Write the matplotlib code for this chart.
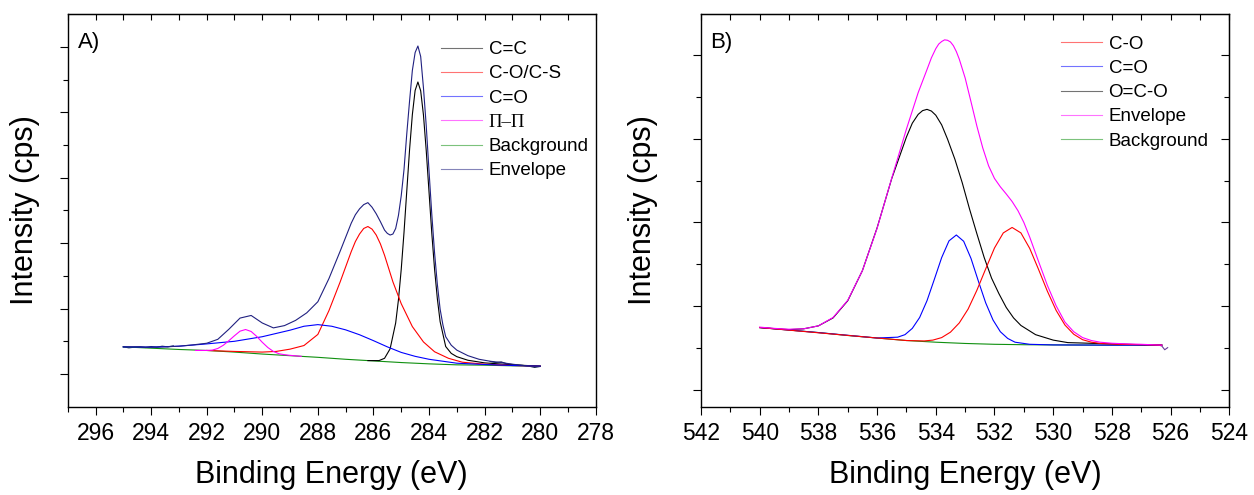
import matplotlib
matplotlib.use('Agg')
import matplotlib.pyplot as plt
from matplotlib.ticker import MultipleLocator, FixedLocator, NullFormatter
import numpy as np

plt.rcParams['font.family'] = ['Liberation Sans', 'DejaVu Sans']

# ---------------- panel A : C 1s ----------------
a_bg_e = [295, 294, 293, 292, 291, 290, 289, 288, 287, 286, 285, 284, 283, 282, 281, 280]
a_bg_i = [1.83, 1.79, 1.75, 1.72, 1.67, 1.61, 1.56, 1.51, 1.45, 1.40, 1.35, 1.31, 1.28, 1.27, 1.25, 1.24]

a_cc_e = [286.2, 285.8, 285.6, 285.4, 285.2, 285.1, 285.0, 284.9, 284.8, 284.7, 284.6, 284.5,
          284.4, 284.3, 284.2, 284.1, 284.0, 283.9, 283.8, 283.7, 283.6, 283.4, 283.2, 283.0,
          282.6, 282.0, 281.0, 280.0]
a_cc_i = [1.41, 1.41, 1.48, 1.77, 2.56, 3.27, 4.20, 5.33, 6.60, 7.86, 8.93, 9.67,
          9.93, 9.66, 8.92, 7.83, 6.57, 5.30, 4.20, 3.30, 2.60, 1.84, 1.63, 1.53,
          1.42, 1.34, 1.28, 1.24]

a_co_e = [292.0, 291.0, 290.0, 289.5, 289.0, 288.5, 288.0, 287.6, 287.2, 286.8, 286.65, 286.5,
          286.35, 286.2, 286.05, 285.9, 285.75, 285.6, 285.3, 285.0, 284.6, 284.2, 283.8, 283.3,
          282.8, 282.0, 281.0, 280.0]
a_co_i = [1.72, 1.69, 1.67, 1.69, 1.76, 1.87, 2.21, 2.94, 3.81, 4.74, 5.05, 5.28,
          5.45, 5.51, 5.43, 5.25, 4.98, 4.63, 3.82, 3.15, 2.45, 1.98, 1.68, 1.48,
          1.36, 1.30, 1.26, 1.24]

a_cdo_e = [295.0, 294.0, 293.0, 292.0, 291.0, 290.0, 289.0, 288.5, 288.0, 287.5, 287.0, 286.5,
           286.0, 285.5, 285.0, 284.5, 284.0, 283.5, 283.0, 282.0, 281.0, 280.0]
a_cdo_i = [1.83, 1.82, 1.85, 1.92, 2.00, 2.14, 2.34, 2.46, 2.51, 2.46, 2.35, 2.20,
           2.02, 1.83, 1.66, 1.54, 1.45, 1.39, 1.33, 1.29, 1.26, 1.24]

a_pi_e = [292.4, 292.2, 292.0, 291.8, 291.6, 291.4, 291.2, 291.0, 290.8, 290.6, 290.4,
          290.2, 290.0, 289.8, 289.6, 289.4, 289.2, 289.0, 288.6]
a_pi_i = [1.72, 1.72, 1.72, 1.73, 1.78, 1.88, 2.02, 2.17, 2.31, 2.36, 2.30,
          2.15, 1.97, 1.81, 1.69, 1.62, 1.59, 1.57, 1.54]

a_env_e = [295.0, 294.5, 294.0, 293.5, 293.0, 292.5, 292.0, 291.6, 291.2, 290.8, 290.4, 290.0,
           289.6, 289.2, 288.8, 288.4, 288.0, 287.6, 287.2, 286.8, 286.65, 286.5, 286.35, 286.2,
           286.05, 285.9, 285.75, 285.6, 285.5, 285.4, 285.3, 285.2, 285.1, 285.0, 284.9, 284.8,
           284.7, 284.6, 284.5, 284.4, 284.3, 284.2, 284.1, 284.0, 283.9, 283.8, 283.7, 283.6,
           283.5, 283.4, 283.2, 283.0, 282.6, 282.2, 281.8, 281.4, 281.0, 280.5, 280.0]
a_env_i = [1.83, 1.83, 1.82, 1.83, 1.85, 1.89, 1.94, 2.06, 2.37, 2.71, 2.79, 2.56,
           2.41, 2.48, 2.64, 2.87, 3.21, 3.92, 4.75, 5.61, 5.87, 6.05, 6.18, 6.24,
           6.10, 5.90, 5.66, 5.40, 5.30, 5.25, 5.28, 5.45, 5.85, 6.45, 7.25, 8.35,
           9.35, 10.28, 10.83, 11.03, 10.71, 9.75, 8.59, 7.21, 5.88, 4.70, 3.74, 2.98,
           2.50, 2.14, 1.88, 1.73, 1.56, 1.45, 1.39, 1.35, 1.30, 1.25, 1.24]

# measured spectrum, visible only beyond the fitted region
a_raw_e = [295.0, 294.8, 294.6, 294.4, 294.2, 294.0, 293.8, 293.6, 293.4, 293.2, np.nan,
           281.8, 281.6, 281.4, 281.2, 281.0, 280.8, 280.6, 280.4, 280.2, 280.0]
a_raw_i = [1.83, 1.80, 1.82, 1.83, 1.81, 1.84, 1.82, 1.85, 1.83, 1.86, np.nan,
           1.38, 1.35, 1.37, 1.31, 1.29, 1.27, 1.26, 1.24, 1.20, 1.23]

# ---------------- panel B : O 1s ----------------
b_bg_e = [540, 539, 538, 537, 536, 535, 534, 533, 532, 531, 530, 528, 526.3]
b_bg_i = [1.89, 1.83, 1.77, 1.70, 1.64, 1.58, 1.54, 1.51, 1.49, 1.48, 1.475, 1.47, 1.47]

b_oco_e = [540.0, 539.0, 538.5, 538.0, 537.5, 537.0, 536.5, 536.0, 535.5, 535.0, 534.8, 534.6,
           534.45, 534.3, 534.15, 534.0, 533.8, 533.6, 533.35, 533.1, 532.85, 532.6, 532.35, 532.1,
           531.85, 531.6, 531.35, 531.1, 530.6, 530.0, 529.5, 529.0, 528.0, 527.0, 526.3]
b_oco_i = [1.89, 1.84, 1.86, 1.93, 2.12, 2.53, 3.25, 4.27, 5.45, 6.44, 6.77, 6.98,
           7.07, 7.10, 7.06, 6.96, 6.73, 6.39, 5.91, 5.35, 4.72, 4.13, 3.56, 3.07,
           2.70, 2.37, 2.12, 1.94, 1.72, 1.59, 1.53, 1.52, 1.50, 1.48, 1.47]

b_cdo_e = [540.0, 538.0, 536.0, 535.3, 535.05, 534.8, 534.55, 534.3, 534.05, 533.8, 533.55,
           533.3, 533.05, 532.8, 532.55, 532.3, 532.05, 531.8, 531.55, 531.3, 530.8, 530.0,
           528.0, 526.3]
b_cdo_i = [1.89, 1.77, 1.64, 1.66, 1.72, 1.87, 2.13, 2.53, 3.04, 3.56, 3.96,
           4.10, 3.95, 3.54, 3.00, 2.48, 2.07, 1.79, 1.63, 1.54, 1.49, 1.475,
           1.47, 1.47]

b_co_e = [540.0, 536.0, 535.0, 534.4, 534.1, 533.8, 533.5, 533.2, 532.9, 532.6, 532.3, 532.0,
          531.7, 531.4, 531.1, 530.8, 530.5, 530.2, 529.9, 529.6, 529.3, 529.0, 528.7, 528.4,
          527.8, 527.0, 526.3]
b_co_i = [1.89, 1.64, 1.58, 1.57, 1.59, 1.65, 1.78, 2.00, 2.33, 2.78, 3.29, 3.79,
          4.15, 4.28, 4.15, 3.78, 3.28, 2.76, 2.30, 1.95, 1.73, 1.60, 1.54, 1.51,
          1.49, 1.48, 1.47]

b_env_e = [540.0, 539.5, 539.0, 538.5, 538.0, 537.5, 537.0, 536.5, 536.0, 535.5, 535.0, 534.6,
           534.3, 534.15, 534.0, 533.9, 533.8, 533.7, 533.6, 533.5, 533.4, 533.3, 533.2, 533.0,
           532.8, 532.6, 532.4, 532.2, 532.0, 531.8, 531.6, 531.4, 531.2, 531.0, 530.8, 530.5,
           530.2, 529.9, 529.6, 529.3, 529.0, 528.7, 528.4, 528.0, 527.5, 527.0, 526.5, 526.3]
b_env_i = [1.90, 1.87, 1.85, 1.86, 1.93, 2.13, 2.54, 3.25, 4.26, 5.46, 6.63, 7.50,
           8.05, 8.33, 8.55, 8.66, 8.72, 8.76, 8.75, 8.71, 8.62, 8.48, 8.30, 7.85,
           7.28, 6.70, 6.18, 5.75, 5.45, 5.25, 5.08, 4.90, 4.68, 4.40, 4.05, 3.47,
           2.90, 2.41, 2.02, 1.79, 1.65, 1.58, 1.54, 1.515, 1.50, 1.49, 1.475, 1.47]

b_raw_e = [526.6, 526.4, 526.3, 526.2, 526.1]
b_raw_i = [1.47, 1.47, 1.45, 1.36, 1.41]

lw = 0.8
fig = plt.figure(figsize=(12.54, 4.95), dpi=100)
axA = fig.add_axes([0.0540, 0.1784, 0.4211, 0.7927])
axB = fig.add_axes([0.5590, 0.1784, 0.4213, 0.7927])

# panel A curves
axA.plot(a_raw_e, a_raw_i, color='#142850', lw=lw)
bgA, = axA.plot(a_bg_e, a_bg_i, color='#109010', lw=lw, label='Background')
ccA, = axA.plot(a_cc_e, a_cc_i, color='#000000', lw=lw, label='C=C')
coA, = axA.plot(a_co_e, a_co_i, color='#ff0000', lw=lw, label='C-O/C-S')
cdoA, = axA.plot(a_cdo_e, a_cdo_i, color='#0000ff', lw=lw, label='C=O')
piA, = axA.plot(a_pi_e, a_pi_i, color='#ff00ff', lw=lw, label='\u03a0\u2013\u03a0')
envA, = axA.plot(a_env_e, a_env_i, color='#202080', lw=lw, label='Envelope')

# panel B curves
axB.plot(b_raw_e, b_raw_i, color='#6a3a9a', lw=lw)
bgB, = axB.plot(b_bg_e, b_bg_i, color='#109010', lw=lw, label='Background')
ocoB, = axB.plot(b_oco_e, b_oco_i, color='#000000', lw=lw, label='O=C-O')
cdoB, = axB.plot(b_cdo_e, b_cdo_i, color='#0000ff', lw=lw, label='C=O')
coB, = axB.plot(b_co_e, b_co_i, color='#ff0000', lw=lw, label='C-O')
envB, = axB.plot(b_env_e, b_env_i, color='#ff00ff', lw=lw, label='Envelope')

tick_fs = 16.5
label_fs = 22
leg_fs = 13.5


def style_axes(ax, xlim, ylim, yticks_major, yticks_minor, right_ticks):
    ax.set_xlim(*xlim)
    ax.set_ylim(*ylim)
    ax.xaxis.set_major_locator(MultipleLocator(2))
    ax.xaxis.set_minor_locator(MultipleLocator(1))
    ax.yaxis.set_major_locator(FixedLocator(yticks_major))
    ax.yaxis.set_minor_locator(FixedLocator(yticks_minor))
    ax.yaxis.set_major_formatter(NullFormatter())
    ax.tick_params(which='major', direction='out', length=6, width=0.8,
                   labelsize=tick_fs, pad=5)
    ax.tick_params(which='minor', direction='out', length=3.5, width=0.8)
    for s in ax.spines.values():
        s.set_linewidth(1.0)
    top = ax.secondary_xaxis('top')
    top.xaxis.set_major_locator(MultipleLocator(2))
    top.xaxis.set_minor_locator(MultipleLocator(1))
    top.tick_params(which='both', direction='in', length=4.5, width=0.8,
                    labeltop=False)
    if right_ticks:
        right = ax.secondary_yaxis('right')
        right.yaxis.set_major_locator(FixedLocator(yticks_major))
        right.yaxis.set_minor_locator(FixedLocator(yticks_minor))
        right.tick_params(which='major', direction='in', length=6, width=0.8,
                          labelright=False)
        right.tick_params(which='minor', direction='in', length=3.5, width=0.8)
    ax.set_xlabel('Binding Energy (eV)', fontsize=label_fs)
    ax.set_ylabel('Intensity (cps)', fontsize=label_fs)


style_axes(axA, (297, 278), (0, 12), [1, 3, 5, 7, 9, 11], [2, 4, 6, 8, 10], False)
style_axes(axB, (542, 524), (0, 9.37), [0.4, 2.4, 4.4, 6.4, 8.4], [1.4, 3.4, 5.4, 7.4], True)

axA.xaxis.set_label_coords(0.5, -0.137)
axB.xaxis.set_label_coords(0.5, -0.137)
axA.yaxis.set_label_coords(-0.0525, 0.5)
axB.yaxis.set_label_coords(-0.081, 0.5)

axA.text(0.02, 0.955, 'A)', transform=axA.transAxes, fontsize=16, va='top', ha='left')
axB.text(0.018, 0.955, 'B)', transform=axB.transAxes, fontsize=16, va='top', ha='left')

legA = axA.legend(handles=[ccA, coA, cdoA, piA, bgA, envA], loc='upper left',
                  bbox_to_anchor=(0.707, 0.932), frameon=False, fontsize=leg_fs,
                  borderpad=0, borderaxespad=0, handlelength=2.2, handletextpad=0.35,
                  labelspacing=0.38)
legA.get_texts()[3].set_fontfamily(['Liberation Serif', 'DejaVu Serif'])
for h in legA.get_lines():
    h.set_alpha(0.55)

legB = axB.legend(handles=[coB, cdoB, ocoB, envB, bgB], loc='upper left',
                  bbox_to_anchor=(0.681, 0.946), frameon=False, fontsize=leg_fs,
                  borderpad=0, borderaxespad=0, handlelength=2.2, handletextpad=0.35,
                  labelspacing=0.38)
for h in legB.get_lines():
    h.set_alpha(0.55)

fig.savefig('out.png', dpi=100)
